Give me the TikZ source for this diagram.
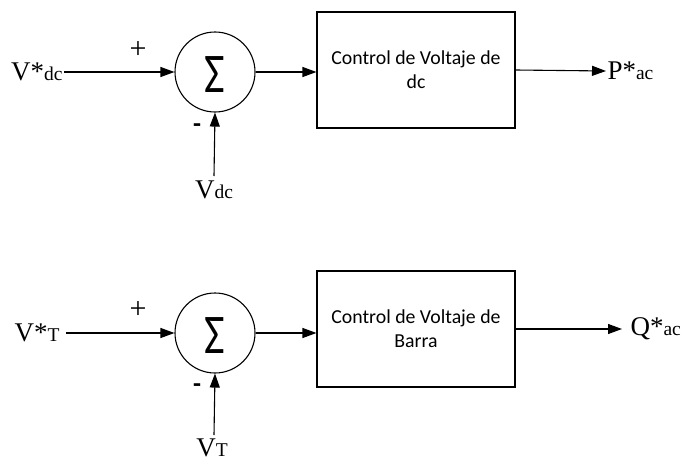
\documentclass[tikz,border=0pt]{standalone}
\usepackage{fontspec}
\setmainfont{Liberation Serif}
\newfontfamily\boxfont{Carlito}
\usetikzlibrary{arrows.meta}
\begin{document}
\begin{tikzpicture}[x=1pt,y=-1pt,
  line width=1.1pt,
  conn/.style={-{Triangle[length=14pt,width=10pt]}},
  sumnode/.style={circle,draw,minimum size=80pt,inner sep=0pt},
  blockbox/.style={draw,minimum width=198pt,minimum height=116pt,align=center,
    font=\boxfont\fontsize{19.8}{24}\selectfont},
  sigma/.style={inner sep=0pt,font=\boxfont\fontsize{56}{56}\selectfont,xscale=0.8},
  sig/.style={font=\boxfont\bfseries\fontsize{26}{26}\selectfont,inner sep=0pt},
  plus/.style={inner sep=0pt,font=\fontsize{30}{30}\selectfont},
  lab/.style={inner sep=0pt}]
\useasboundingbox (0,0) rectangle (686,463);
\newcommand{\bigf}{\fontsize{27}{27}\selectfont}
\newcommand{\smf}{\fontsize{19.5}{19.5}\selectfont}
% top row
\node[sumnode] (s1) at (215,72) {};
\node[sigma] (sg1) at (215,75) {Σ};
\node[blockbox] (b1) at (416,70) {Control de Voltaje de\\dc};
\node[lab,anchor=east] (in1) at (63,72) {\bigf V*\smf dc};
\coordinate (in1e) at (64,72);
\node[lab,anchor=west] (out1) at (607,71) {\bigf P*\smf ac};
\coordinate (out1w) at (606,71);
\node[lab] (fb1) at (214,190) {\bigf V\smf dc};
\coordinate (fb1n) at (214,176);
\node[plus] (p1) at (138,50) {+};
\node[sig] (m1) at (197,128) {-};
\draw[conn] (in1e) -- (s1.west);
\draw[conn] (fb1n) -- (s1.south);
\draw[conn] (s1.east) -- (s1.east -| b1.west);
\draw[conn] (b1.east) -- (out1w);
% bottom row
\node[sumnode] (s2) at (215,333) {};
\node[sigma] (sg2) at (215,336) {Σ};
\node[blockbox] (b2) at (416,329) {Control de Voltaje de\\Barra};
\node[lab,anchor=east] (in2) at (60,333) {\bigf V*\smf T};
\coordinate (in2e) at (66,333);
\node[lab,anchor=west] (out2) at (630,329) {\bigf Q*\smf ac};
\coordinate (out2w) at (622,329);
\node[lab] (fb2) at (212,448) {\bigf V\smf T};
\coordinate (fb2n) at (214,435);
\node[plus] (p2) at (138,310) {+};
\node[sig] (m2) at (197,388) {-};
\draw[conn] (in2e) -- (s2.west);
\draw[conn] (fb2n) -- (s2.south);
\draw[conn] (s2.east) -- (s2.east -| b2.west);
\draw[conn] (b2.east) -- (out2w);
\end{tikzpicture}
\end{document}
